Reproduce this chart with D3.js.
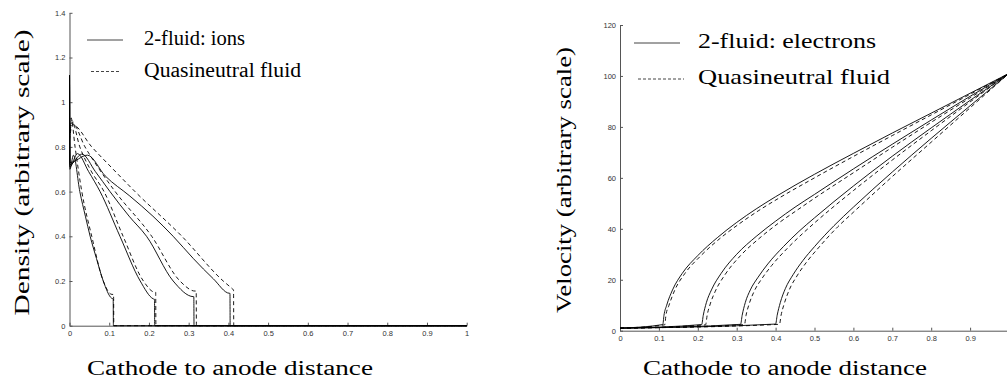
<!DOCTYPE html>
<html>
<head>
<meta charset="utf-8">
<script src="https://cdn.jsdelivr.net/npm/d3@7"></script>
<style>
  body { margin: 0; background: #fff; }
  svg { display: block; }
</style>
</head>
<body>
<svg id="chart" width="1007" height="385"></svg>
<script>
// x ticks (cathode to anode distance); the velocity panel's "1" falls off the page
const densityXTicks = [0, 0.1, 0.2, 0.3, 0.4, 0.5, 0.6, 0.7, 0.8, 0.9, 1]
const velocityXTicks = [0, 0.1, 0.2, 0.3, 0.4, 0.5, 0.6, 0.7, 0.8, 0.9]
const densityTicks = [0, 0.2, 0.4, 0.6, 0.8, 1, 1.2, 1.4]
const velocityTicks = [0, 20, 40, 60, 80, 100, 120]

// density, 2-fluid ions (one series per run)
const ionRuns = [
  [[0, 1.12], [0.001, 0.70], [0.01, 0.763], [0.026, 0.6], [0.04, 0.49], [0.052, 0.4], [0.068, 0.3], [0.085, 0.2], [0.106, 0.123], [0.11, 0.12], [0.1105, 0], [1, 0]],
  [[0, 1.12], [0.001, 0.71], [0.02, 0.77], [0.048, 0.69], [0.077, 0.6], [0.127, 0.4], [0.178, 0.2], [0.211, 0.12], [0.214, 0.118], [0.2145, 0], [1, 0]],
  [[0, 1.12], [0.001, 0.72], [0.031, 0.768], [0.065, 0.69], [0.102, 0.6], [0.15, 0.49], [0.194, 0.4], [0.261, 0.2], [0.312, 0.13], [0.313, 0.13], [0.3135, 0], [1, 0]],
  [[0, 1.12], [0.001, 0.73], [0.045, 0.763], [0.09, 0.67], [0.152, 0.58], [0.21, 0.49], [0.261, 0.4], [0.312, 0.3], [0.362, 0.21], [0.403, 0.145], [0.404, 0.145], [0.4045, 0], [1, 0]]
]

// density, quasineutral fluid
const quasiDensityRuns = [
  [[0, 0.86], [0.004, 0.93], [0.014, 0.8], [0.031, 0.6], [0.056, 0.4], [0.085, 0.2], [0.107, 0.14], [0.111, 0.14], [0.1115, 0], [1, 0]],
  [[0, 0.85], [0.005, 0.92], [0.026, 0.8], [0.052, 0.7], [0.087, 0.6], [0.135, 0.4], [0.186, 0.2], [0.215, 0.15], [0.217, 0.15], [0.2175, 0], [1, 0]],
  [[0, 0.84], [0.006, 0.91], [0.039, 0.8], [0.075, 0.7], [0.115, 0.6], [0.207, 0.4], [0.278, 0.2], [0.316, 0.155], [0.319, 0.155], [0.3195, 0], [1, 0]],
  [[0, 0.83], [0.007, 0.9], [0.056, 0.8], [0.11, 0.7], [0.165, 0.6], [0.283, 0.4], [0.387, 0.2], [0.41, 0.165], [0.413, 0.16], [0.4135, 0], [1, 0]]
]

// velocity, 2-fluid electrons
const electronRuns = [
  [[0, 1.0], [0.11, 2.4], [0.113, 6], [0.12, 10], [0.135, 16], [0.16, 22.5], [0.2, 29.5], [0.25, 36.5], [0.3, 42.5], [0.35, 47.8], [0.4, 52.6], [0.5, 61.4], [0.6, 69.6], [0.7, 77.6], [0.8, 85.4], [0.9, 93.2], [1, 101]],
  [[0, 1.0], [0.21, 2.4], [0.214, 6], [0.222, 11], [0.235, 16], [0.26, 22.5], [0.3, 30], [0.35, 37], [0.4, 43], [0.45, 48.5], [0.5, 53.5], [0.6, 63.5], [0.7, 73.2], [0.8, 82.7], [0.9, 92], [1, 101]],
  [[0, 1.0], [0.31, 2.5], [0.314, 6], [0.322, 11], [0.335, 16], [0.355, 21], [0.38, 26.2], [0.42, 33], [0.46, 39], [0.5, 44.3], [0.6, 56.8], [0.7, 68.5], [0.8, 79.6], [0.9, 90.4], [1, 101]],
  [[0, 1.0], [0.40, 2.6], [0.404, 6], [0.412, 11], [0.425, 16.5], [0.445, 22], [0.47, 27.5], [0.5, 33], [0.55, 41.2], [0.6, 48.5], [0.7, 62.3], [0.8, 75.5], [0.9, 88.3], [1, 101]]
]

// velocity, quasineutral fluid
const quasiVelocityRuns = [
  [[0, 1.0], [0.115, 2.3], [0.118, 6], [0.126, 10], [0.141, 16], [0.167, 22.5], [0.207, 29.3], [0.257, 36.2], [0.307, 42], [0.357, 47.2], [0.407, 51.9], [0.5, 60], [0.6, 68.4], [0.7, 76.6], [0.8, 84.7], [0.9, 92.8], [1, 101]],
  [[0, 1.0], [0.22, 2.3], [0.224, 6], [0.232, 10.5], [0.245, 15.5], [0.27, 22], [0.31, 29.5], [0.36, 36.5], [0.41, 42.5], [0.46, 47.8], [0.5, 52], [0.6, 62], [0.7, 72], [0.8, 81.8], [0.9, 91.4], [1, 101]],
  [[0, 1.0], [0.32, 2.4], [0.324, 6], [0.332, 10.5], [0.345, 15.5], [0.365, 20.5], [0.39, 25.6], [0.43, 32.3], [0.47, 38.2], [0.5, 42.3], [0.6, 55], [0.7, 67], [0.8, 78.5], [0.9, 89.8], [1, 101]],
  [[0, 1.0], [0.41, 2.5], [0.414, 6], [0.422, 10.5], [0.435, 16], [0.455, 21.5], [0.48, 27], [0.51, 32.5], [0.56, 40.8], [0.6, 46.5], [0.7, 60.5], [0.8, 74], [0.9, 87.5], [1, 101]]
]

const svg = d3.select('#chart')
const fmt = d3.format('~g')
const serif = "'Liberation Serif', 'Times New Roman', serif"

function panel(opts) {
  const x = d3.scaleLinear().domain([0, 1]).range(opts.xRange)
  const y = d3.scaleLinear().domain(opts.yDomain).range(opts.yRange)
  const g = svg.append('g')

  const xAxis = g.append('g')
    .attr('transform', `translate(0,${opts.yRange[0]})`)
    .call(d3.axisBottom(x).tickValues(opts.xTicks).tickFormat(fmt).tickSizeInner(-3).tickSizeOuter(0).tickPadding(5))
  const yAxis = g.append('g')
    .attr('transform', `translate(${opts.xRange[0]},0)`)
    .call(d3.axisLeft(y).tickValues(opts.yTicks).tickFormat(fmt).tickSizeInner(-3).tickSizeOuter(0).tickPadding(4))
  for (const a of [xAxis, yAxis]) {
    a.attr('font-family', "'Liberation Sans', Arial, sans-serif").attr('font-size', 7.5)
    a.selectAll('path, line').attr('stroke', '#555')
    a.selectAll('text').attr('fill', '#333')
  }

  const line = d3.line().x((d) => x(d[0])).y((d) => y(d[1])).curve(d3.curveMonotoneX)
  g.append('g').selectAll('path').data(opts.dashed).join('path')
    .attr('d', line).attr('fill', 'none').attr('stroke', '#000').attr('stroke-width', 0.9).attr('stroke-dasharray', '4,3')
  g.append('g').selectAll('path').data(opts.solid).join('path')
    .attr('d', line).attr('fill', 'none').attr('stroke', '#000').attr('stroke-width', 0.9)

  // legend
  const lg = opts.legend
  g.append('line').attr('x1', lg.x1).attr('x2', lg.x2).attr('y1', lg.y1).attr('y2', lg.y1).attr('stroke', '#444').attr('stroke-width', 1)
  g.append('line').attr('x1', lg.dx1).attr('x2', lg.dx2).attr('y1', lg.y2).attr('y2', lg.y2).attr('stroke', '#444').attr('stroke-width', 1).attr('stroke-dasharray', '3,2')
  g.append('text').attr('x', lg.tx).attr('y', lg.y1 + 5).attr('font-family', serif).attr('font-size', lg.size)
    .attr('textLength', lg.w1).attr('lengthAdjust', 'spacingAndGlyphs').text(lg.t1)
  g.append('text').attr('x', lg.tx).attr('y', lg.y2 + 5).attr('font-family', serif).attr('font-size', lg.size)
    .attr('textLength', lg.w2).attr('lengthAdjust', 'spacingAndGlyphs').text('Quasineutral fluid')

  // axis titles
  g.append('text').attr('transform', `translate(${opts.yTitle.x},${opts.yTitle.y}) rotate(-90)`)
    .attr('text-anchor', 'middle').attr('font-family', serif).attr('font-size', 22)
    .attr('textLength', opts.yTitle.w).attr('lengthAdjust', 'spacingAndGlyphs').text(opts.yTitle.text)
  g.append('text').attr('x', opts.xTitle.x).attr('y', 375)
    .attr('text-anchor', 'middle').attr('font-family', serif).attr('font-size', 20)
    .attr('textLength', opts.xTitle.w).attr('lengthAdjust', 'spacingAndGlyphs').text('Cathode to anode distance')
}

panel({
  xRange: [69.5, 466.7], yDomain: [0, 1.4], yRange: [325.7, 12.8], xTicks: densityXTicks, yTicks: densityTicks,
  solid: ionRuns, dashed: quasiDensityRuns,
  legend: { x1: 87, x2: 123, dx1: 91, dx2: 120, y1: 40, y2: 71.5, tx: 144, size: 20, t1: '2-fluid: ions', w1: 101, w2: 157 },
  yTitle: { x: 29, y: 172.5, w: 286, text: 'Density (arbitrary scale)' },
  xTitle: { x: 230, w: 286 }
})

panel({
  xRange: [620, 1009], yDomain: [0, 120], yRange: [330.7, 25], xTicks: velocityXTicks, yTicks: velocityTicks,
  solid: electronRuns, dashed: quasiVelocityRuns,
  legend: { x1: 634, x2: 680, dx1: 638, dx2: 684, y1: 43, y2: 79, tx: 698, size: 22, t1: '2-fluid: electrons', w1: 178, w2: 192 },
  yTitle: { x: 571, y: 180, w: 266, text: 'Velocity (arbitrary scale)' },
  xTitle: { x: 785, w: 284 }
})
</script>
</body>
</html>
